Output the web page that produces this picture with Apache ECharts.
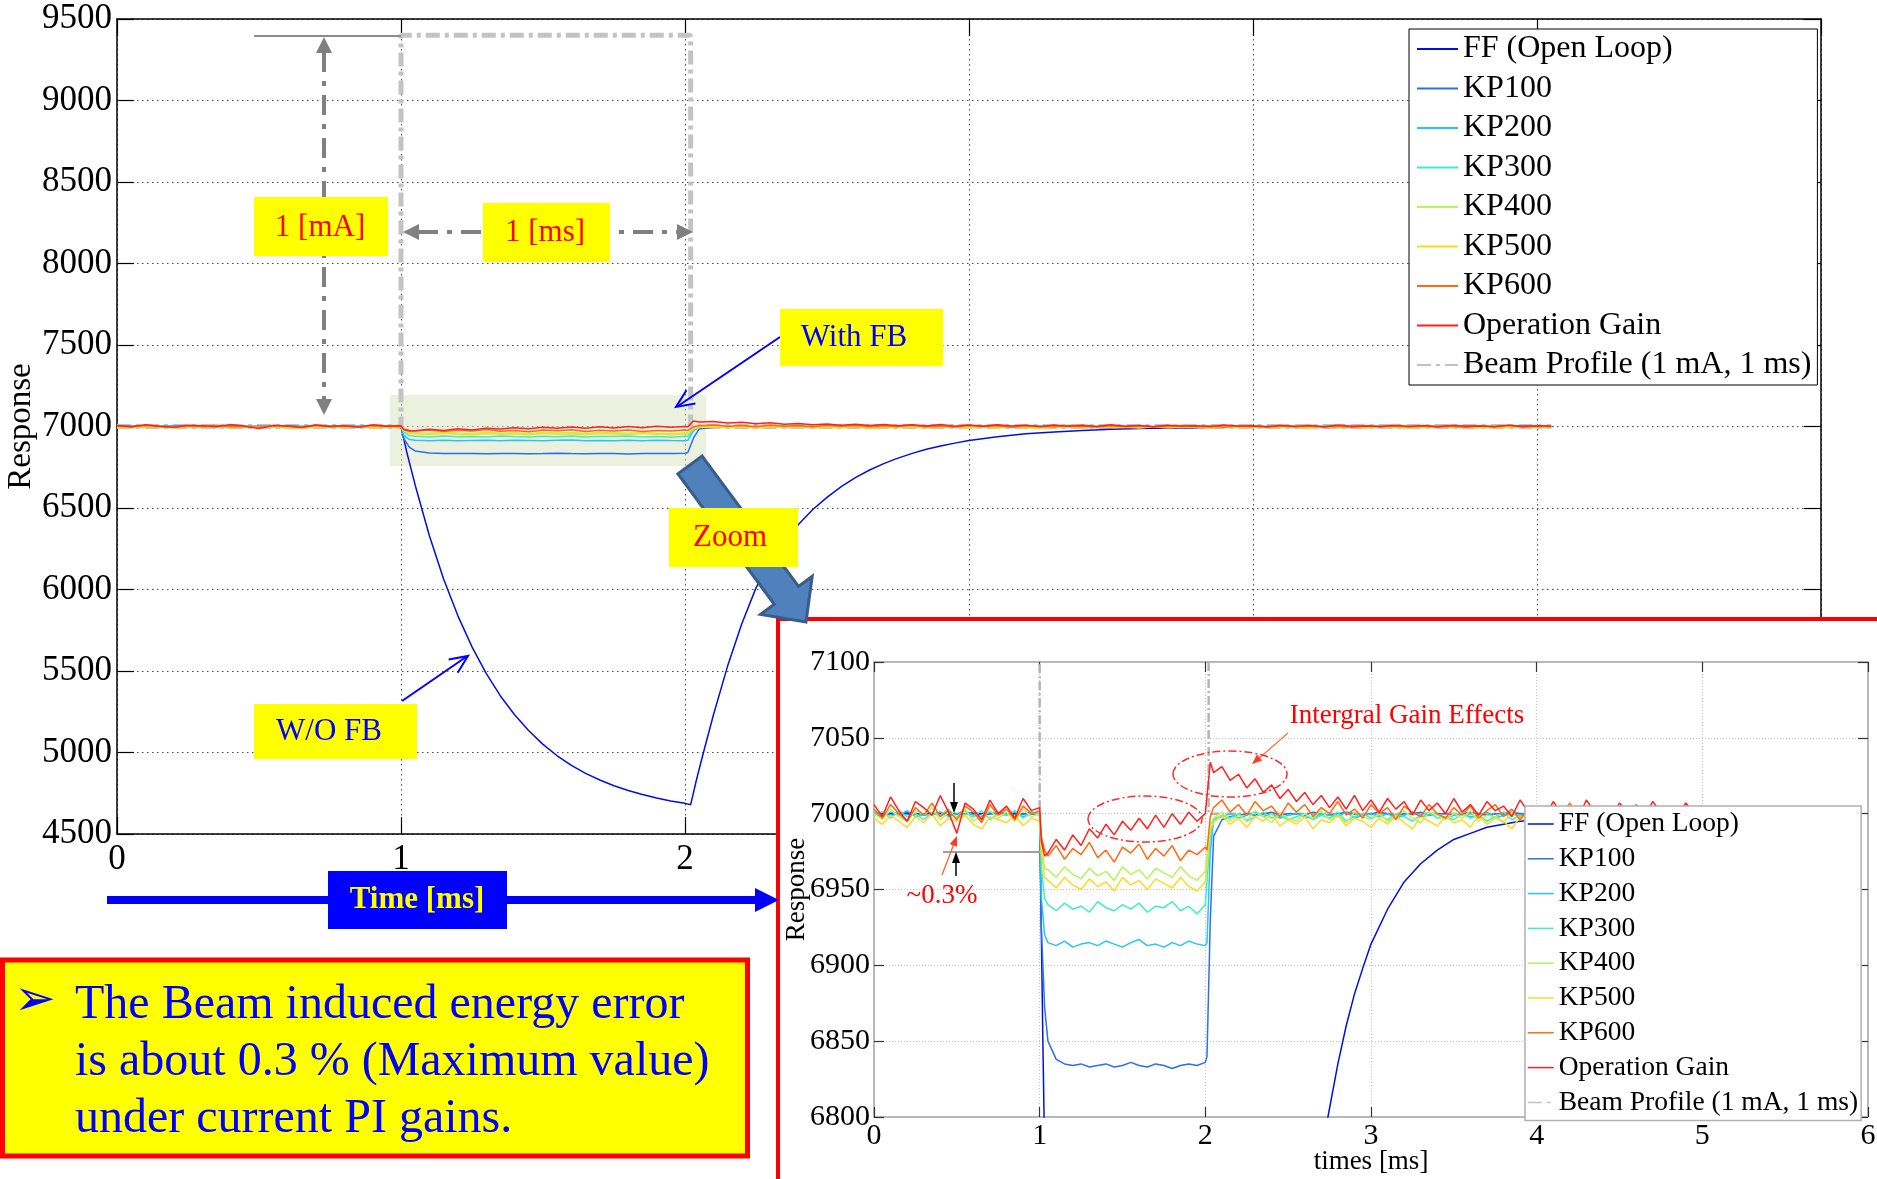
<!DOCTYPE html>
<html><head><meta charset="utf-8">
<script src="https://cdn.jsdelivr.net/npm/echarts@6/dist/echarts.min.js"></script>
<style>html,body{margin:0;padding:0;background:#fff}#c{width:1877px;height:1179px}</style>
</head><body><div id="c"></div>
<script>
// ---------------- data ----------------
const times = [
  0,0.05,0.1,0.15,0.2,0.25,0.3,0.35,0.4,0.45,0.5,0.55,0.6,0.65,0.7,0.75,0.8,0.85,0.9,0.95,1,
  1.01,1.03,
  1.05,1.1,1.15,1.2,1.25,1.3,1.35,1.4,1.45,1.5,1.55,1.6,1.65,1.7,1.75,1.8,1.85,1.9,1.95,2,
  2.01,2.03,
  2.05,2.1,2.15,2.2,2.25,2.3,2.35,2.4,2.45,2.5,
  2.55,2.6,2.65,2.7,2.75,2.8,2.85,2.9,2.95,3,
  3.05,3.1,3.15,3.2,3.25,3.3,3.35,3.4,3.45,3.5,
  3.55,3.6,3.65,3.7,3.75,3.8,3.85,3.9,3.95,4,
  4.05,4.1,4.15,4.2,4.25,4.3,4.35,4.4,4.45,4.5,
  4.55,4.6,4.65,4.7,4.75,4.8,4.85,4.9,4.95,5,
  5.05
];
const kp100 = [
  7000,7001,6999,7000,7001,7000,6999,7000,7001,6999,7000,7000,7001,6999,7000,7001,7000,6999,7000,7001,7000,
  6925,6872,
  6850,6838,6835,6834,6835,6833,6834,6835,6833,6834,6836,6834,6833,6835,6834,6832,6834,6835,6834,6836,
  6840,6930,
  6985,6996,6998,6999,7000,6999,7000,7001,6999,7000,
  7000,6999,7001,7000,6999,7000,7001,7000,6999,7000,
  7001,7000,6999,7000,7000,7001,6999,7000,7000,6999,
  7000,7001,7000,6999,7000,7000,7001,7000,6999,7000,
  7000,6999,7000,7001,7000,7000,6999,7000,7001,7000,
  6999,7000,7000,7001,7000,6999,7000,7000,7001,7000,
  7000
];
const kp200 = [
  7000,6998,7001,6999,7002,6998,7000,6999,7001,6998,7000,7002,6999,6998,7001,7000,6999,7001,6998,7000,7000,
  6945,6920,
  6915,6913,6916,6912,6914,6915,6913,6916,6914,6912,6915,6917,6913,6914,6912,6915,6913,6916,6914,6913,
  6915,6975,
  6996,6998,7000,6997,6999,7001,6998,7000,6997,6999,
  7000,6998,6997,7000,6999,6998,7001,6997,6999,7000,
  6998,7000,6997,6999,7001,6998,6999,7000,6997,6999,
  7000,6998,6999,7001,6997,6999,7000,6998,6999,7000,
  6998,6999,7001,6997,7000,6999,6998,7000,6999,6998,
  7000,6999,6997,7000,6998,7001,6999,6998,7000,6999,
  7000
];
const kp300 = [
  6999,7001,6997,7002,6998,7000,6996,7001,6999,7003,6997,7000,6998,7002,6996,7000,6999,7002,6997,7001,6999,
  6965,6944,
  6940,6936,6941,6937,6939,6935,6942,6938,6936,6940,6937,6941,6935,6939,6938,6942,6936,6939,6934,6940,
  6939,6985,
  6996,6999,6997,7000,6995,6998,7001,6997,6999,6996,
  6998,7000,6996,6999,6997,7001,6995,6998,7000,6997,
  6999,6996,7000,6998,6995,6999,7001,6997,6998,6996,
  7000,6997,6999,6995,6998,7001,6996,6999,6997,7000,
  6998,6995,6999,7001,6997,6998,6996,7000,6998,6997,
  6999,6996,7001,6998,6997,7000,6995,6999,6998,6997,
  6999
];
const kp400 = [
  7000,6996,7003,6998,6995,7002,6999,7004,6996,7001,6998,7003,6995,6999,7002,6997,7001,6995,7003,6998,7000,
  6980,6964,
  6963,6958,6965,6960,6957,6964,6959,6962,6956,6965,6960,6963,6957,6964,6961,6958,6965,6959,6956,6962,
  6962,6993,
  6997,7001,6995,6999,6996,7002,6998,6994,7000,6997,
  6995,7000,6997,7002,6996,6999,6994,7001,6998,6996,
  7000,6995,6998,7002,6997,6994,7001,6999,6996,7000,
  6997,7002,6995,6999,6998,6994,7001,6997,7000,6996,
  6999,6995,7001,6998,6996,7002,6997,6994,7000,6998,
  6996,7001,6998,6995,7000,6997,7002,6996,6999,6997,
  6999
];
const kp500 = [
  6997,6993,6999,6995,6991,6998,6994,7000,6992,6997,6995,6999,6993,6990,6998,6996,6994,6999,6992,6997,6995,
  6975,6958,
  6956,6951,6958,6953,6950,6957,6952,6955,6949,6958,6953,6956,6950,6957,6954,6951,6958,6952,6949,6955,
  6955,6990,
  6994,6999,6993,6997,6991,6998,6995,7000,6992,6996,
  6993,6998,6990,6996,6994,6999,6992,6997,6995,6991,
  6997,6993,6999,6994,6990,6998,6995,6992,6998,6994,
  6996,6991,6999,6993,6997,6995,6990,6998,6994,6997,
  6993,6999,6995,6991,6998,6994,6997,6992,6999,6995,
  6991,6997,6994,6999,6993,6996,6992,6998,6995,6997,
  6994
];
const kp600 = [
  7003,6997,7006,7000,6995,7004,6999,7007,6998,7002,6996,7005,7001,6994,7006,6999,7003,6996,7005,7000,7002,
  6985,6976,
  6972,6979,6970,6977,6973,6981,6971,6976,6968,6978,6974,6980,6970,6977,6972,6979,6969,6976,6973,6978,
  6976,6998,
  7004,7009,7001,7006,6999,7008,7002,7005,6998,7007,
  7001,7006,6998,7004,7000,7008,6999,7003,6997,7006,
  7000,7004,6996,7005,7001,6998,7006,7000,6997,7004,
  6999,7005,6997,7002,7006,6998,7003,6996,7004,7000,
  6997,7003,6999,7007,6998,7002,6996,7005,7000,7003,
  6998,7006,7000,7002,6996,7004,6999,7007,6997,7002,
  7000
];
const operationGain = [
  7006,6998,7011,7002,6995,7008,7004,6999,7012,7001,6987,7007,7003,6996,7009,7000,7005,6997,7010,7002,7004,
  6982,6972,
  6974,6983,6976,6986,6979,6990,6984,6993,6986,6995,6989,6997,6990,6999,6991,7000,6993,7001,6995,7000,
  6999,7034,
  7027,7031,7022,7026,7017,7023,7014,7019,7010,7016,
  7008,7014,7006,7012,7004,7011,7003,7012,7002,7009,
  7001,7010,7003,7008,6999,7009,7002,7007,7000,7010,
  7001,7006,6999,7008,7002,7005,6998,7009,7001,7004,
  6998,7008,7000,7004,6997,7009,7001,7003,6998,7007,
  7000,7004,6997,7008,7001,7003,6998,7007,7000,7005,
  7001
];
const ffTimes = [0,0.5,1,1.02,1.05,1.1,1.15,1.2,1.25,1.3,1.35,1.4,1.45,1.5,1.55,1.6,1.65,1.7,1.75,1.8,1.85,1.9,1.95,2,2.02,
  2.04,2.065,2.1,2.15,2.2,2.25,2.3,2.35,2.4,2.45,2.5,2.55,2.6,2.65,2.7,2.74,2.8,2.85,2.9,2.95,3,3.1,3.2,3.3,3.4,3.5,3.6,3.7,3.8,3.9,4,4.2,4.5,5.05];
const ffValues = [7000,7000,7000,6845,6640,6330,6065,5840,5648,5485,5347,5232,5133,5050,4980,4921,4872,4831,4796,4767,4742,4721,4703,4688,4680,
  4830,5000,5230,5530,5790,6010,6170,6295,6400,6491,6565,6631,6686,6733,6772,6800,6835,6860,6881,6898,6914,6937,6955,6967,6976,6983,6987,6991,6993,6995,6996,6998,6999,7000];
const beamTimes = [0,1,1,2.02,2.02,5.05];
const beamValues = [7000,7000,9400,9400,7000,7000];
const seriesNames = ['FF (Open Loop)','KP100','KP200','KP300','KP400','KP500','KP600','Operation Gain','Beam Profile (1 mA, 1 ms)'];
const mainXTicks = [0,6,1];
const mainYTicks = [4500,9500,500];
const insetXTicks = [0,6,1];
const insetYTicks = [6800,7100,50];

// ---------------- chart ----------------
const FONT = '"Liberation Serif","Times New Roman",serif';
const colors = ['#0010e0','#2a6ff0','#25c5f5','#3cf0c0','#b5f55a','#ffd920','#ff6a10','#ff2020','#c3c3c3'];
function pairs(ts, vs){ return ts.map((t,i)=>[t, vs[i]]); }
const seriesData = [
  pairs(ffTimes, ffValues), pairs(times,kp100), pairs(times,kp200), pairs(times,kp300),
  pairs(times,kp400), pairs(times,kp500), pairs(times,kp600), pairs(times,operationGain),
  pairs(beamTimes, beamValues)
];
const order = [8,0,1,2,3,4,5,6,7];
const series = [];
[0,1].forEach(function(g){
  order.forEach(function(k){
    const isBeam = k === 8;
    series.push({
      type:'line', name: seriesNames[k], data: seriesData[k],
      xAxisIndex: g===0?0:2, yAxisIndex: g===0?0:2,
      symbol:'none', showSymbol:false, animation:false, silent:true,
      z: g===0?2:8,
      lineStyle: isBeam
        ? (g===0 ? {color:'#c3c3c3', width:5, type:[14,5,4,5]} : {color:'#b4b4b4', width:2.5, type:[9,3,2,3]})
        : {color: colors[k], width: 1.5},
      itemStyle:{color: isBeam ? '#c3c3c3' : colors[k]},
      emphasis:{disabled:true}
    });
  });
});

function plain(v){ return String(v); }
function axisX(grid, pos, ticks, main, withLabel){
  return {
    gridIndex:grid, type:'value', min:ticks[0], max:ticks[1], interval:ticks[2], position:pos,
    z: main?0:7,
    axisLine:{show:true, onZero:false, lineStyle:{color: main?'#000':'#b8b8b8', width: main?1.5:2}},
    axisTick:{show:true, inside:true, length: main?17:10, lineStyle:{color: main?'#000':'#333', width:1.2}},
    axisLabel:{show:withLabel, formatter:plain, fontFamily:FONT, fontSize: main?35:30, color:'#000', margin: main?8:4},
    splitLine:{show:withLabel, lineStyle:{color: main?'#4a4a4a':'#c4c4c4', width:1, type: main?[1.5,3.5]:[1,2]}}
  };
}
function axisY(grid, pos, ticks, main, withLabel){
  const o = axisX(grid, pos, ticks, main, withLabel);
  o.axisLabel.margin = main?5:4;
  return o;
}
const xAxis = [
  axisX(0,'bottom',mainXTicks,true,true),
  axisX(0,'top',mainXTicks,true,false),
  Object.assign(axisX(1,'bottom',insetXTicks,false,true),{name:'times [ms]', nameLocation:'middle', nameGap:31, nameMoveOverlap:false,
    nameTextStyle:{fontFamily:FONT, fontSize:27, color:'#000'}}),
  axisX(1,'top',insetXTicks,false,false)
];
const yAxis = [
  Object.assign(axisY(0,'left',mainYTicks,true,true),{name:'Response', nameLocation:'middle', nameGap:79, nameMoveOverlap:false,
    nameTextStyle:{fontFamily:FONT, fontSize:33, color:'#000'}}),
  axisY(0,'right',mainYTicks,true,false),
  Object.assign(axisY(1,'left',insetYTicks,false,true),{name:'Response', nameLocation:'middle', nameGap:64, nameMoveOverlap:false,
    nameTextStyle:{fontFamily:FONT, fontSize:27, color:'#000'}}),
  axisY(1,'right',insetYTicks,false,false)
];

// ---------------- annotations (pixel decorations) ----------------
function head(x1,y1,x2,y2,len,half){
  const dx=x2-x1, dy=y2-y1, L=Math.hypot(dx,dy), ux=dx/L, uy=dy/L, nx=-uy, ny=ux;
  return [[x2-len*ux+half*nx, y2-len*uy+half*ny],[x2,y2],[x2-len*ux-half*nx, y2-len*uy-half*ny]];
}
function T(text,x,y,size,color,z,opt){
  opt = opt||{};
  return {type:'text', z:z, silent:true, style:{text:text, x:x, y:y, fill:color,
    font:(opt.bold?'bold ':'')+size+'px '+(opt.family||FONT),
    align:opt.align||'center', verticalAlign:'middle', textAlign:opt.align||'center', textVerticalAlign:'middle'}};
}
function R(x,y,w,h,fill,z,stroke,lw){
  return {type:'rect', z:z, silent:true, shape:{x:x,y:y,width:w,height:h}, style:{fill:fill, stroke:stroke||null, lineWidth:lw||0}};
}
function Ln(x1,y1,x2,y2,color,w,z,dash){
  return {type:'line', z:z, silent:true, shape:{x1:x1,y1:y1,x2:x2,y2:y2}, style:{stroke:color, lineWidth:w, lineDash:dash||null}};
}
function Poly(pts,fill,z,stroke,lw){
  return {type:'polygon', z:z, silent:true, shape:{points:pts}, style:{fill:fill, stroke:stroke||null, lineWidth:lw||0}};
}
function Vhead(x1,y1,x2,y2,len,half,color,w,z){
  return {type:'polyline', z:z, silent:true, shape:{points:head(x1,y1,x2,y2,len,half)}, style:{stroke:color, lineWidth:w, fill:null}};
}
const g = [];
g.push(R(390,395,316,71,'rgba(215,228,189,0.5)',1));
g.push(Ln(254,36,401,36,'#8c8c8c',2,5));
g.push(Ln(324,52,324,400,'#808080',4,5,[20,9,5,9]));
g.push(Poly(head(324,60,324,37,16,8),'#808080',5));
g.push(Poly(head(324,390,324,415,16,8),'#808080',5));
g.push(Ln(418,232,677,232,'#808080',4,5,[20,9,5,9]));
g.push(Poly(head(430,232,403,232,16,8),'#808080',5));
g.push(Poly(head(666,232,693,232,16,8),'#808080',5));
g.push(R(254,197,134,59,'#ffff00',5)); g.push(T('1 [mA]',320,228,31,'#ff0000',5));
g.push(R(483,203,127,59,'#ffff00',5)); g.push(T('1 [ms]',545,233,31,'#ff0000',5));
g.push(Ln(780,337,678,406,'#0000ff',2,5)); g.push(Vhead(780,337,676,407,18,8,'#0000ff',2,5));
g.push(R(780,309,163,57,'#ffff00',5)); g.push(T('With FB',854,338,31,'#0000ff',5));
g.push(Ln(402,701,466,657,'#0000ff',2,5)); g.push(Vhead(402,701,468,656,18,8,'#0000ff',2,5));
g.push(R(254,704,163,55,'#ffff00',5)); g.push(T('W/O FB',329,732,31,'#0000ff',5));
g.push(R(778,619,1200,700,'#ffffff',6,'#ff0000',4));
g.push(Ln(943,852,1040,852,'#a0a0a0',2,9));
g.push(Ln(954,783,954,806,'#000',1.5,9)); g.push(Poly(head(954,790,954,813,11,4),'#000',9));
g.push(Ln(956,876,956,860,'#000',1.5,9)); g.push(Poly(head(956,870,956,852,11,4),'#000',9));
g.push(Ln(942,875,955,841,'#ff5a20',1.2,9)); g.push(Poly(head(942,875,957,836,10,4),'#ff3a20',9));
g.push(T('~0.3%',942,896,27,'#ff0000',9));
g.push(T('Intergral Gain Effects',1407,716,27,'#ff0000',9));
g.push(Ln(1288,733,1256,761,'#ff7040',1.2,9)); g.push(Poly(head(1288,733,1252,764,10,4),'#ff3a20',9));
g.push({type:'ellipse', z:9, silent:true, shape:{cx:1145,cy:819,rx:57,ry:23}, style:{fill:null, stroke:'#ff2a2a', lineWidth:1.5, lineDash:[8,3,2,3]}});
g.push({type:'ellipse', z:9, silent:true, shape:{cx:1230,cy:774,rx:57,ry:23}, style:{fill:null, stroke:'#ff2a2a', lineWidth:1.5, lineDash:[8,3,2,3]}});
g.push(Poly([[677.9,473.9],[774.3,604.3],[760.6,614.4],[806,622],[812.2,576.4],[798.5,586.5],[702.1,456.1]],'#4f81bd',10,'#385d8a',3));
g.push(R(669,508,129,59,'#ffff00',10)); g.push(T('Zoom',730,538,31,'#ff0000',10));
g.push(Ln(107,900,758,900,'#0000ff',8,10));
g.push(Poly([[755,888],[779,900],[755,912]],'#0000ff',10));
g.push(R(328,871,179,58,'#0000ff',10)); g.push(T('Time [ms]',417,900,31,'#ffff00',10,{bold:true}));
g.push(R(2.5,960,745,196,'#ffff00',10,'#ff0000',5));
g.push(T('\u27A2',14,1002,50,'#0000ff',10,{align:'left', family:'"DejaVu Sans"'}));
g.push(T('The Beam induced energy error',75,1005,48,'#0000ff',10,{align:'left'}));
g.push(T('is about 0.3 % (Maximum value)',75,1062,48,'#0000ff',10,{align:'left'}));
g.push(T('under current PI gains.',75,1119,48,'#0000ff',10,{align:'left'}));

const legendData = seriesNames.slice();
const option = {
  animation:false,
  backgroundColor:'#ffffff',
  textStyle:{fontFamily:FONT},
  grid:[
    {left:117, top:19, width:1704, height:815, containLabel:false, outerBoundsMode:'none'},
    {left:874, top:662, width:994, height:455, containLabel:false, outerBoundsMode:'none'}
  ],
  xAxis:xAxis, yAxis:yAxis,
  legend:[
    {data:legendData, orient:'vertical', left:1409, top:29, padding:[4,6,4,7], itemWidth:41, itemHeight:14, itemGap:7.5,
     selectedMode:false, z:4, backgroundColor:'#fff', borderColor:'#000', borderWidth:1, borderRadius:0,
     itemStyle:{opacity:0, borderWidth:0},
     textStyle:{fontFamily:FONT, fontSize:32, lineHeight:32, color:'#000'}},
    {data:legendData, orient:'vertical', left:1525, top:806, padding:[4,3,4,2], itemWidth:26, itemHeight:10, itemGap:6.8,
     selectedMode:false, z:9, backgroundColor:'#fff', borderColor:'#b0b0b0', borderWidth:1.5, borderRadius:0,
     itemStyle:{opacity:0, borderWidth:0},
     lineStyle:{width:1.5}, textStyle:{fontFamily:FONT, fontSize:27.5, lineHeight:27, color:'#000'}}
  ],
  graphic:{elements:g},
  series:series
};
const chart = echarts.init(document.getElementById('c'), null, {renderer:'canvas'});
chart.setOption(option);
</script>
</body></html>
